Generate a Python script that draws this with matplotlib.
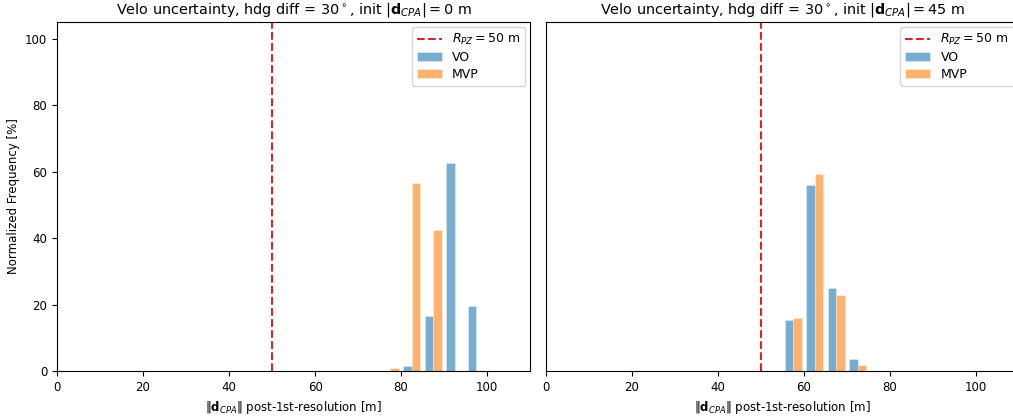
import numpy as np
import matplotlib
matplotlib.use('Agg')
import matplotlib.pyplot as plt

# --- histogram data (normalized frequency, %) ---
# bin edges in metres, 5 m wide
edges_0 = [75, 80, 85, 90, 95, 100]
vo_0 = [0.0, 1.5, 16.5, 62.5, 19.5]
mvp_0 = [0.8, 56.5, 42.5, 0.0, 0.0]

edges_45 = [55, 60, 65, 70, 75]
vo_45 = [15.3, 56.1, 25.0, 3.6]
mvp_45 = [16.0, 59.2, 22.8, 1.9]

r_pz = 50
init_dcpa = [0, 45]
hdg_diff = 30

panels = [(edges_0, vo_0, mvp_0), (edges_45, vo_45, mvp_45)]

plt.rcParams['font.size'] = 8.5

fig = plt.figure(figsize=(10.13, 4.16), dpi=100)
ax1 = fig.add_axes([0.0563, 0.108, 0.467, 0.839])
ax2 = fig.add_axes([0.539, 0.108, 0.467, 0.839], sharey=ax1)

for ax, (edges, vo, mvp), d0 in zip([ax1, ax2], panels, init_dcpa):
    edges = np.array(edges, dtype=float)
    centers = 0.5 * (edges[:-1] + edges[1:])
    w = 0.4 * (edges[1] - edges[0])
    ax.axvline(r_pz, color='tab:red', ls='--', lw=1.5, label=r'$R_{PZ} = %d$ m' % r_pz)
    ax.bar(centers - w / 2, vo, width=w, color='tab:blue', alpha=0.6,
           edgecolor='white', linewidth=0.4, label='VO')
    ax.bar(centers + w / 2, mvp, width=w, color='tab:orange', alpha=0.6,
           edgecolor='white', linewidth=0.4, label='MVP')
    ax.set_xlim(0, 110)
    ax.set_ylim(0, 105)
    ax.set_xticks([0, 20, 40, 60, 80, 100])
    ax.set_xlabel(r'$\|\mathbf{d}_{CPA}\|$ post-1st-resolution [m]')
    ax.set_title(r'Velo uncertainty, hdg diff = $%d^\circ$, init $|\mathbf{d}_{CPA}| = %d$ m'
                 % (hdg_diff, d0), fontsize=10.4)
    ax.legend(loc='upper right', fontsize=9, labelspacing=0.3, borderaxespad=0.4)

ax1.set_yticks([0, 20, 40, 60, 80, 100])
ax1.set_ylabel('Normalized Frequency [%]')
ax2.tick_params(axis='y', left=False, labelleft=False)

plt.savefig('out.png', dpi=100)
